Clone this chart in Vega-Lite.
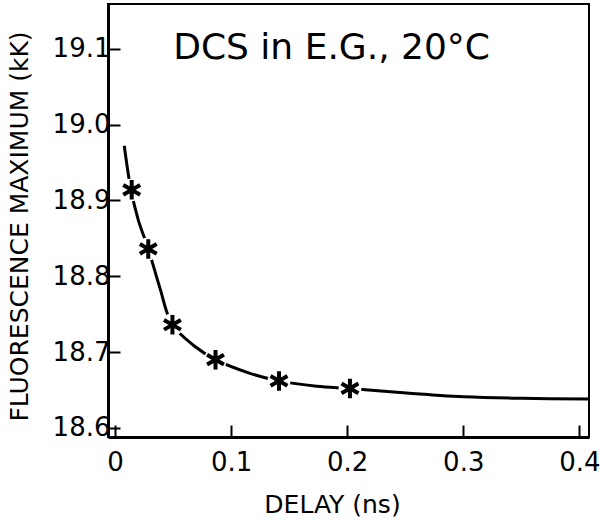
{
  "$schema": "https://vega.github.io/schema/vega-lite/v6.json",
  "autosize": {"type": "none"},
  "width": 481,
  "height": 433,
  "padding": {"left": 108, "top": 4, "right": 11, "bottom": 83},
  "background": "white",
  "config": {
    "font": "DejaVu Sans",
    "view": {"stroke": "black", "strokeWidth": 2},
    "axis": {
      "grid": false,
      "domainColor": "black",
      "domainWidth": 3,
      "tickColor": "black",
      "tickWidth": 2,
      "tickSize": -12,
      "labelColor": "black",
      "labelFontSize": 26,
      "titleColor": "black",
      "titleFontWeight": "normal"
    }
  },
  "datasets": {
    "curve": [
      {"delay": 0.008, "fmax": 18.972},
      {"delay": 0.0138, "fmax": 18.914},
      {"delay": 0.0201, "fmax": 18.874},
      {"delay": 0.0287, "fmax": 18.836},
      {"delay": 0.0388, "fmax": 18.784},
      {"delay": 0.0491, "fmax": 18.737},
      {"delay": 0.0675, "fmax": 18.709},
      {"delay": 0.0866, "fmax": 18.690},
      {"delay": 0.1163, "fmax": 18.672},
      {"delay": 0.1413, "fmax": 18.662},
      {"delay": 0.1737, "fmax": 18.655},
      {"delay": 0.2024, "fmax": 18.652},
      {"delay": 0.2426, "fmax": 18.647},
      {"delay": 0.3006, "fmax": 18.641},
      {"delay": 0.3500, "fmax": 18.639},
      {"delay": 0.4083, "fmax": 18.638}
    ],
    "stars": [
      {"delay": 0.0144, "fmax": 18.914},
      {"delay": 0.0287, "fmax": 18.836},
      {"delay": 0.0495, "fmax": 18.736},
      {"delay": 0.0866, "fmax": 18.690},
      {"delay": 0.1413, "fmax": 18.662},
      {"delay": 0.2024, "fmax": 18.652}
    ],
    "label": [
      {"delay": 0.1866, "fmax": 19.101, "text": "DCS in E.G., 20°C"}
    ]
  },
  "encoding": {
    "x": {
      "field": "delay",
      "type": "quantitative",
      "scale": {"domain": [-0.006, 0.4083], "nice": false, "zero": false},
      "axis": {
        "title": "DELAY (ns)",
        "titleFontSize": 25,
        "values": [0, 0.1, 0.2, 0.3, 0.4],
        "labelExpr": "datum.value == 0 ? '0' : format(datum.value, '.1f')",
        "labelPadding": 24,
        "titlePadding": 17,
        "titleX": 224
      }
    },
    "y": {
      "field": "fmax",
      "type": "quantitative",
      "scale": {"domain": [18.588, 19.159], "nice": false, "zero": false},
      "axis": {
        "title": "FLUORESCENCE MAXIMUM (kK)",
        "titleFontSize": 25,
        "values": [18.6, 18.7, 18.8, 18.9, 19.0, 19.1],
        "format": ".1f",
        "labelPadding": 10,
        "titlePadding": 20,
        "titleY": 222
      }
    }
  },
  "layer": [
    {
      "data": {"name": "curve"},
      "mark": {"type": "line", "color": "black", "strokeWidth": 3, "interpolate": "catmull-rom"}
    },
    {
      "data": {"name": "stars"},
      "mark": {"type": "point", "shape": "circle", "filled": true, "color": "white", "opacity": 1, "size": 520, "strokeWidth": 0}
    },
    {
      "data": {"name": "stars"},
      "mark": {"type": "point", "shape": "M0,-1L0,1M-0.866,-0.5L0.866,0.5M-0.866,0.5L0.866,-0.5", "filled": false, "color": "black", "opacity": 1, "size": 380, "strokeWidth": 4}
    },
    {
      "data": {"name": "label"},
      "mark": {"type": "text", "fontSize": 36, "color": "black", "align": "center", "baseline": "middle"},
      "encoding": {"text": {"field": "text"}}
    }
  ]
}
